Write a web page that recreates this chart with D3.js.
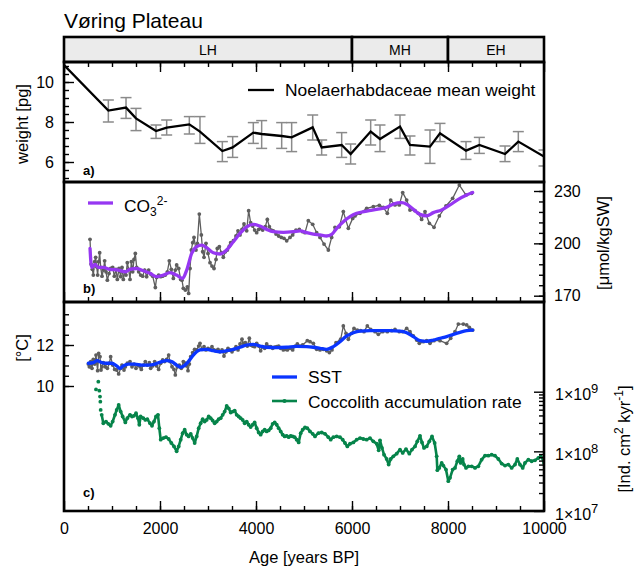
<!DOCTYPE html>
<html><head><meta charset="utf-8">
<script src="https://cdn.jsdelivr.net/npm/d3@7"></script>
<style>
body{margin:0;background:#fff}
svg{font-family:"Liberation Sans",Arial,Helvetica,sans-serif}
</style></head><body>
<svg id="chart" width="634" height="566"></svg>
<script>
// periods
const periods = [{name: 'LH', from: 0, to: 6000}, {name: 'MH', from: 6000, to: 8000}, {name: 'EH', from: 8000, to: 10000}]

// a) Noelaerhabdaceae mean weight [pg]
const wAge = [0, 924, 1292, 1500, 1917, 2139, 2611, 2833, 3299, 3514, 3944, 4118, 4535, 4743, 5181, 5368, 5785, 5972, 6389, 6583, 7000, 7208, 7625, 7833, 8375, 8653, 9188, 9465, 10000]
const wMean = [10.85, 8.57, 8.72, 8.18, 7.55, 7.72, 7.88, 7.52, 6.55, 6.73, 7.47, 7.4, 7.3, 7.23, 7.73, 6.73, 6.85, 6.4, 7.52, 7.15, 7.77, 6.85, 6.77, 7.43, 6.57, 6.85, 6.4, 7.02, 6.27]
const wHigh = [null, 9.1, 9.22, 8.68, 7.85, 8.1, 8.27, 8.27, 7.02, 7.27, 7.97, 8.07, 7.97, 7.97, 8.35, 7.1, 7.47, 6.9, 8.1, 7.85, 8.35, 7.3, 7.6, 7.93, 7.02, 7.23, 6.8, 7.52, 6.6]
const wLow = [null, 8.0, 8.18, 7.57, 7.18, 7.35, 7.4, 6.93, 6.02, 6.23, 6.93, 6.68, 6.68, 6.52, 7.1, 6.35, 6.23, 5.9, 6.85, 6.52, 7.18, 6.35, 5.93, 7.02, 6.13, 6.43, 6.02, 6.52, 5.8]

// b) carbonate ion [umol/kgSW], raw and smoothed
const co3Age = [542,563,590,611,639,660,681,701,722,743,764,792,820,847,875,903,938,972,1014,1049,1083,1111,1146,1181,1208,1236,1264,1292,1319,1347,1375,1403,1431,1458,1486,1514,1556,1597,1639,1681,1722,1764,1806,1847,1903,1931,1972,2014,2056,2111,2153,2194,2236,2278,2319,2347,2389,2431,2458,2486,2528,2569,2597,2625,2653,2681,2708,2750,2778,2819,2861,2889,2917,2958,3000,3042,3083,3125,3167,3194,3236,3278,3319,3361,3403,3444,3472,3528,3583,3625,3667,3708,3750,3806,3847,3889,3931,3972,4014,4056,4097,4139,4194,4236,4278,4319,4361,4417,4472,4528,4583,4639,4708,4764,4833,4903,4972,5021,5090,5181,5264,5333,5417,5507,5576,5646,5736,5819,5924,6014,6063,6167,6306,6444,6569,6653,6736,6806,6896,6986,7056,7139,7208,7313,7382,7451,7521,7611,7708,7819,7958,8097,8236,8375,8493]
const co3Val = [202.3,188.1,185.1,181.8,189.5,192.0,186.6,181.8,189.5,194.6,186.2,181.2,184.7,190.0,183.7,178.9,182.7,185.6,186.2,181.2,185.1,179.3,185.6,180.9,186.2,179.3,183.7,181.8,188.9,185.1,179.3,189.5,183.7,190.8,194.2,186.2,183.7,181.8,181.2,184.7,180.9,184.7,182.4,181.2,174.7,180.5,181.8,180.9,181.2,181.8,183.7,190.0,185.1,179.9,184.7,187.6,185.6,179.3,178.9,174.2,173.2,175.1,171.3,185.6,196.2,200.4,203.4,196.2,200.0,216.8,204.8,195.2,192.0,200.0,194.2,188.9,187.0,185.6,190.8,197.1,198.1,194.6,192.0,195.2,196.2,198.4,200.4,201.5,204.2,207.2,204.8,208.0,211.1,207.2,218.7,211.8,209.9,207.6,206.1,208.0,208.6,207.6,209.5,213.7,209.5,207.6,207.2,205.3,204.2,203.4,202.9,201.5,203.4,204.8,207.6,208.0,206.7,206.1,213.0,210.9,206.1,203.4,199.6,196.2,203.4,209.2,209.5,218.2,208.6,214.3,215.7,217.2,220.1,221.0,221.8,220.6,217.2,224.8,222.0,222.0,229.1,224.8,219.1,218.7,217.2,213.7,218.2,211.5,209.2,215.7,221.4,225.8,233.4,227.7,228.7]
const co3sAge = [542,576,611,646,715,819,958,1132,1271,1375,1514,1653,1792,1931,2069,2208,2347,2472,2556,2660,2764,2868,2972,3111,3250,3389,3528,3667,3806,3944,4083,4222,4361,4569,4778,4917,5056,5194,5333,5472,5576,5681,5819,5958,6097,6306,6514,6722,6861,7035,7139,7278,7417,7556,7694,7868,8042,8215,8389,8514]
const co3sVal = [197.1,186.2,187.0,187.9,186.2,186.2,185.1,184.7,183.7,185.1,185.6,184.3,182.8,180.9,181.8,183.2,181.8,179.9,184.7,194.2,198.1,199.0,197.5,194.6,193.9,196.2,200.9,205.7,209.5,210.9,209.9,208.0,206.7,206.3,206.7,207.2,206.1,205.3,204.8,204.2,205.1,208.6,212.4,215.3,217.2,218.5,219.5,220.6,222.5,223.3,222.4,219.5,216.6,215.8,217.6,219.1,222.0,225.2,227.7,229.1]

// c) SST [degC], raw and smoothed
const sstAge = [507,528,556,583,611,639,667,681,701,722,750,771,792,819,861,903,944,972,1014,1056,1097,1139,1181,1208,1250,1278,1319,1375,1417,1458,1500,1542,1583,1611,1653,1694,1736,1778,1806,1847,1889,1931,1972,2014,2056,2097,2139,2181,2208,2250,2292,2319,2361,2403,2444,2486,2521,2556,2583,2611,2639,2681,2722,2764,2806,2833,2875,2917,2958,3000,3042,3083,3125,3167,3208,3250,3292,3333,3375,3417,3458,3500,3542,3583,3625,3667,3708,3736,3778,3819,3861,3889,3931,3972,4014,4056,4097,4139,4181,4222,4264,4306,4347,4389,4431,4472,4514,4569,4611,4653,4708,4764,4819,4861,4917,4972,5069,5125,5194,5264,5333,5403,5472,5528,5583,5667,5764,5819,5875,5924,5993,6042,6111,6181,6250,6319,6389,6479,6549,6639,6736,6826,6896,6986,7056,7139,7208,7278,7347,7403,7486,7556,7625,7708,7833,7972,8056,8146,8215,8319,8389,8444,8514]
const sstVal = [11.07,10.94,11.19,10.86,11.30,11.07,11.51,11.14,10.75,11.59,11.43,10.78,10.94,11.14,10.94,10.86,11.11,11.43,11.02,10.81,10.78,10.59,10.86,11.02,10.78,10.94,11.11,11.19,10.94,11.07,10.86,11.02,10.94,10.81,11.02,11.19,11.02,11.14,10.86,10.98,11.19,10.98,10.81,11.11,11.27,11.19,11.30,11.51,11.19,10.94,10.81,10.54,10.94,11.02,10.86,11.19,11.11,10.98,10.75,11.07,11.43,11.63,11.79,11.76,11.95,12.08,11.79,11.92,11.76,11.84,11.79,11.92,11.76,11.72,11.79,11.67,11.76,11.46,11.67,11.84,11.76,11.67,11.79,11.92,11.76,12.05,12.28,12.08,12.11,11.95,12.33,12.0,11.95,11.92,12.08,11.95,11.72,11.92,11.84,12.05,11.92,11.92,11.84,11.89,11.92,11.95,11.84,11.76,11.79,11.76,11.84,11.76,11.95,12.05,11.95,12.0,12.21,12.16,12.08,11.79,11.76,11.79,11.72,11.63,11.76,12.11,12.28,12.93,12.57,12.28,12.57,12.81,12.73,12.70,12.65,12.93,12.76,12.65,12.52,12.65,12.65,12.70,12.76,12.65,12.65,12.81,12.65,12.44,12.24,12.08,12.16,12.21,12.08,12.21,12.21,12.08,12.33,12.65,13.02,13.02,12.98,12.86,12.73]
const sstsAge = [507,611,694,785,889,993,1097,1167,1236,1340,1479,1618,1757,1896,2035,2139,2243,2347,2431,2500,2590,2694,2833,2972,3111,3250,3389,3528,3667,3806,3944,4083,4222,4431,4639,4847,5056,5194,5333,5472,5611,5750,5889,6028,6167,6375,6583,6792,7000,7139,7278,7417,7556,7694,7833,7972,8111,8250,8389,8514]
const sstsVal = [11.11,11.14,11.24,11.14,11.11,11.11,10.98,10.86,10.98,11.07,11.07,11.02,11.02,11.07,11.19,11.24,11.19,11.02,10.91,10.98,11.19,11.51,11.76,11.79,11.72,11.67,11.72,11.79,11.89,12.0,12.03,11.95,11.89,11.87,11.89,11.93,11.92,11.89,11.84,11.79,11.92,12.16,12.44,12.60,12.68,12.70,12.70,12.70,12.68,12.60,12.41,12.21,12.18,12.24,12.33,12.41,12.52,12.62,12.70,12.73]

// c) coccolith accumulation rate [Ind. cm^2 kyr^-1]
const carDotAge = [667, 715, 736, 750, 757, 764]
const carDotVal = [1.09e9, 1.47e9, 1.04e9, 8.3e8, 6.8e8, 4.95e8]
const carAge = [785,819,875,924,972,1014,1063,1097,1139,1181,1222,1278,1319,1375,1417,1458,1500,1542,1569,1597,1653,1694,1736,1792,1833,1875,1917,1958,1986,2014,2069,2125,2181,2236,2292,2347,2389,2431,2472,2514,2556,2597,2639,2681,2722,2764,2806,2847,2889,2931,2972,3014,3056,3097,3139,3181,3222,3264,3306,3347,3389,3431,3472,3514,3556,3597,3639,3681,3722,3764,3806,3847,3889,3931,3972,4014,4056,4097,4139,4181,4222,4264,4306,4347,4389,4431,4472,4514,4556,4597,4639,4681,4722,4764,4806,4847,4889,4931,4972,5021,5069,5125,5181,5229,5299,5368,5438,5507,5556,5611,5681,5750,5806,5854,5903,5958,6028,6097,6167,6236,6306,6375,6444,6514,6556,6583,6625,6667,6722,6764,6806,6861,6931,7000,7056,7125,7194,7250,7313,7361,7417,7458,7500,7556,7611,7667,7722,7764,7778,7819,7868,7903,7958,8007,8042,8097,8146,8194,8236,8264,8306,8333,8375,8424,8493,8563,8632,8701,8771,8840,8910,8979,9049,9118,9188,9257,9326,9396,9444,9500,9556,9604,9674,9743,9813,9882,9931,9986,10000]
const carVal = [4.1e8,2.96e8,3.16e8,2.89e8,2.68e8,3.16e8,4.1e8,4.95e8,6.0e8,4.64e8,3.84e8,3.05e8,3.6e8,4.1e8,3.84e8,3.94e8,4.36e8,3.6e8,2.79e8,3.84e8,3.6e8,3.37e8,3.46e8,2.96e8,2.68e8,3.16e8,3.84e8,4.1e8,2.45e8,1.57e8,1.67e8,1.73e8,1.61e8,1.38e8,1.21e8,1.0e8,1.21e8,1.57e8,2.02e8,2.3e8,1.9e8,1.78e8,1.97e8,1.67e8,1.38e8,1.78e8,2.45e8,2.96e8,3.46e8,3.16e8,3.37e8,3.84e8,3.6e8,3.29e8,2.96e8,3.16e8,3.46e8,3.6e8,4.1e8,4.64e8,5.77e8,5.27e8,4.47e8,4.64e8,4.83e8,4.1e8,3.84e8,3.6e8,3.37e8,2.96e8,3.16e8,2.79e8,2.55e8,2.79e8,3.05e8,2.45e8,2.07e8,1.9e8,2.16e8,2.3e8,2.16e8,2.24e8,2.45e8,2.89e8,3.05e8,2.79e8,2.45e8,2.16e8,1.9e8,1.78e8,1.82e8,1.73e8,1.82e8,1.78e8,1.73e8,1.57e8,1.41e8,2.02e8,2.3e8,2.51e8,2.45e8,2.16e8,1.97e8,1.78e8,2.02e8,2.07e8,1.97e8,1.73e8,1.57e8,1.73e8,1.78e8,1.73e8,1.57e8,1.38e8,1.21e8,1.34e8,1.41e8,1.57e8,1.67e8,1.61e8,1.57e8,1.67e8,1.47e8,1.34e8,1.04e8,1.53e8,1.14e8,8.8e7,7.45e7,6.0e7,7.45e7,8.26e7,9.15e7,1.07e8,9.4e7,1.09e8,9.15e7,1.07e8,1.21e8,1.47e8,1.82e8,1.41e8,1.14e8,1.21e8,1.47e8,1.78e8,1.38e8,8.26e7,4.83e7,5.28e7,6.4e7,5.77e7,4.95e7,3.16e7,3.6e7,4.95e7,5.28e7,6.82e7,8.26e7,6.4e7,7.45e7,6.0e7,5.28e7,5.62e7,5.62e7,5.28e7,5.62e7,7.26e7,8.47e7,8.47e7,8.8e7,8.47e7,7.45e7,6.24e7,5.77e7,6.0e7,5.28e7,6.0e7,7.45e7,6.0e7,5.28e7,6.4e7,7.26e7,6.82e7,7.08e7,7.74e7,8.26e7,7.26e7,6.4e7]

// tick values
const xMinor = d3.range(500, 10000, 500)
const xMajor = [0, 2000, 4000, 6000, 8000, 10000]
const wMajor = [6, 8, 10]
const wMinor = d3.range(5.2, 11, 0.4)
const co3Major = [170, 200, 230]
const co3Minor = d3.range(170, 231, 6)
const sstMajor = [10, 12]
const sstMinor = d3.range(10, 13.6, 0.5)
const carMajor = [1e7, 1e8, 1e9]
const carMinor = [2, 3, 4, 5, 6, 7, 8, 9].flatMap(m => [m * 1e7, m * 1e8])

const L = 64, R = 544
const hdrTop = 37, aTop = 62, bTop = 182, cTop = 302, cBot = 511
const frameW = 2.6
const gray = '#5e5e5e', purple = '#9637f2', blue = '#0a35ff', green = '#06844a'

const svg = d3.select('#chart')
const x = d3.scaleLinear().domain([0, 10000]).range([L, R])
const yA = d3.scaleLinear().domain([6, 10]).range([162, 82])
const yB = d3.scaleLinear().domain([170, 230]).range([295.7, 191])
const yC = d3.scaleLinear().domain([10, 12]).range([386, 345])
const yLog = d3.scaleLog().domain([1e7, 1e9]).range([511, 391.7])

function clip(id, top, bottom) {
  svg.append('clipPath').attr('id', id)
    .append('rect').attr('x', L).attr('y', top).attr('width', R - L).attr('height', bottom - top)
}
clip('clipA', aTop, bTop)
clip('clipB', bTop, cTop)
clip('clipC', cTop, cBot)

function addAxis(gen, vals, size, tx, ty, fmt, pad) {
  const g = svg.append('g').attr('transform', `translate(${tx},${ty})`)
    .call(gen.tickValues(vals).tickSizeInner(size).tickSizeOuter(0).tickPadding(pad || 8).tickFormat(fmt || (() => '')))
  g.attr('font-size', 16).attr('font-family', null)
  g.select('.domain').remove()
  g.selectAll('line').attr('stroke', '#000').attr('stroke-width', 1.4)
  g.selectAll('text').attr('fill', '#000')
  return g
}

// ---- title + header
svg.append('text').attr('x', 64).attr('y', 28).attr('font-size', 21).text('Vøring Plateau')

svg.append('g').selectAll('rect').data(periods).enter().append('rect')
  .attr('x', d => x(d.from)).attr('y', hdrTop)
  .attr('width', d => x(d.to) - x(d.from)).attr('height', aTop - hdrTop)
  .attr('fill', '#ebebeb').attr('stroke', '#000').attr('stroke-width', frameW)
svg.append('g').selectAll('text').data(periods).enter().append('text')
  .attr('x', d => x((d.from + d.to) / 2)).attr('y', 54.5)
  .attr('text-anchor', 'middle').attr('font-size', 14).text(d => d.name)

// ---- panel a
const ga = svg.append('g').attr('clip-path', 'url(#clipA)')
const wData = wAge.map((a, i) => ({age: a, mean: wMean[i], hi: wHigh[i], lo: wLow[i]}))
const errs = wData.filter(d => d.hi != null)
const eb = ga.append('g').attr('stroke', '#8a8a8a').attr('stroke-width', 1.5)
eb.selectAll('.v').data(errs).enter().append('line')
  .attr('x1', d => x(d.age)).attr('x2', d => x(d.age)).attr('y1', d => yA(d.hi)).attr('y2', d => yA(d.lo))
eb.selectAll('.t').data(errs).enter().append('line')
  .attr('x1', d => x(d.age) - 5.5).attr('x2', d => x(d.age) + 5.5).attr('y1', d => yA(d.hi)).attr('y2', d => yA(d.hi))
eb.selectAll('.b').data(errs).enter().append('line')
  .attr('x1', d => x(d.age) - 5.5).attr('x2', d => x(d.age) + 5.5).attr('y1', d => yA(d.lo)).attr('y2', d => yA(d.lo))
ga.append('path').datum(wData)
  .attr('d', d3.line().x(d => x(d.age)).y(d => yA(d.mean)))
  .attr('fill', 'none').attr('stroke', '#000').attr('stroke-width', 2.3)

// legend a
svg.append('line').attr('x1', 248).attr('x2', 274).attr('y1', 90).attr('y2', 90).attr('stroke', '#000').attr('stroke-width', 2.3)
svg.append('text').attr('x', 285).attr('y', 95.5).attr('font-size', 17.4).text('Noelaerhabdaceae mean weight')
svg.append('text').attr('x', 83).attr('y', 175).attr('font-size', 13).attr('font-weight', 'bold').text('a)')

// ---- raw + smooth helper
function rawSeries(g, ages, vals, y) {
  const pts = d3.zip(ages, vals)
  g.append('path').datum(pts)
    .attr('d', d3.line().x(d => x(d[0])).y(d => y(d[1])))
    .attr('fill', 'none').attr('stroke', gray).attr('stroke-width', 1.3)
  g.append('g').selectAll('circle').data(pts).enter().append('circle')
    .attr('cx', d => x(d[0])).attr('cy', d => y(d[1])).attr('r', 1.9).attr('fill', gray)
}
function smoothSeries(g, ages, vals, y, color) {
  g.append('path').datum(d3.zip(ages, vals))
    .attr('d', d3.line().curve(d3.curveMonotoneX).x(d => x(d[0])).y(d => y(d[1])))
    .attr('fill', 'none').attr('stroke', color).attr('stroke-width', 3.3)
    .attr('stroke-linecap', 'round').attr('stroke-linejoin', 'round')
}

// ---- panel b
const gb = svg.append('g').attr('clip-path', 'url(#clipB)')
rawSeries(gb, co3Age, co3Val, yB)
smoothSeries(gb, co3sAge, co3sVal, yB, purple)
svg.append('line').attr('x1', 88).attr('x2', 113).attr('y1', 203).attr('y2', 203).attr('stroke', purple).attr('stroke-width', 3.3)
const co3Lab = svg.append('text').attr('x', 124).attr('y', 212).attr('font-size', 17.4)
co3Lab.append('tspan').text('CO')
co3Lab.append('tspan').attr('dy', 4).attr('font-size', 12).text('3')
co3Lab.append('tspan').attr('dy', -11).attr('font-size', 12).text('2-')
svg.append('text').attr('x', 83).attr('y', 293).attr('font-size', 13).attr('font-weight', 'bold').text('b)')

// ---- panel c
const gc = svg.append('g').attr('clip-path', 'url(#clipC)')
rawSeries(gc, sstAge, sstVal, yC)
smoothSeries(gc, sstsAge, sstsVal, yC, blue)
const car = d3.zip(carAge, carVal)
gc.append('path').datum(car)
  .attr('d', d3.line().x(d => x(d[0])).y(d => yLog(d[1])))
  .attr('fill', 'none').attr('stroke', green).attr('stroke-width', 2.6).attr('stroke-linejoin', 'round')
gc.append('g').selectAll('circle').data(car.concat(d3.zip(carDotAge, carDotVal))).enter().append('circle')
  .attr('cx', d => x(d[0])).attr('cy', d => yLog(d[1])).attr('r', 1.9).attr('fill', green)

svg.append('line').attr('x1', 272).attr('x2', 297).attr('y1', 377).attr('y2', 377).attr('stroke', blue).attr('stroke-width', 3.3)
svg.append('text').attr('x', 308).attr('y', 383).attr('font-size', 17.4).text('SST')
svg.append('line').attr('x1', 272).attr('x2', 297).attr('y1', 401).attr('y2', 401).attr('stroke', green).attr('stroke-width', 2.6)
svg.append('circle').attr('cx', 284.5).attr('cy', 401).attr('r', 2.1).attr('fill', green)
svg.append('text').attr('x', 308).attr('y', 408).attr('font-size', 17.4).text('Coccolith accumulation rate')
svg.append('text').attr('x', 83).attr('y', 497).attr('font-size', 13).attr('font-weight', 'bold').text('c)')

// ---- ticks
addAxis(d3.axisBottom(x), xMinor, 5, 0, aTop)
addAxis(d3.axisBottom(x), xMajor, 10, 0, aTop)
addAxis(d3.axisBottom(x), xMinor, -5, 0, cTop)
addAxis(d3.axisBottom(x), xMajor, -10, 0, cTop)
addAxis(d3.axisBottom(x), xMinor, -5, 0, cBot)
addAxis(d3.axisBottom(x), xMajor, -10, 0, cBot, d3.format('d'), 12)

addAxis(d3.axisLeft(yA), wMinor, -5, L, 0)
addAxis(d3.axisLeft(yA), wMajor, -10, L, 0, d3.format('d'), 10)
addAxis(d3.axisRight(yB), co3Minor, -5, R, 0)
addAxis(d3.axisRight(yB), co3Major, -10, R, 0, d3.format('d'), 10)
addAxis(d3.axisLeft(yC), sstMinor, -5, L, 0)
addAxis(d3.axisLeft(yC), sstMajor, -10, L, 0, d3.format('d'), 10)
addAxis(d3.axisRight(yLog), carMinor, -5, R, 0)
const logAx = addAxis(d3.axisRight(yLog), carMajor, -10, R, 0, d => d, 11)
logAx.selectAll('text').attr('dy', '0.5em').each(function (d) {
  const t = d3.select(this).text('')
  t.append('tspan').text('1×10')
  t.append('tspan').attr('dy', -7).attr('font-size', 13).text(Math.round(Math.log10(d)))
})

// ---- frames
;[[aTop, bTop], [bTop, cTop], [cTop, cBot]].forEach(([t, b]) => {
  svg.append('rect').attr('x', L).attr('y', t).attr('width', R - L).attr('height', b - t)
    .attr('fill', 'none').attr('stroke', '#000').attr('stroke-width', frameW)
})

// ---- axis titles
function vlabel(xp, yp, parts) {
  const t = svg.append('text').attr('transform', `translate(${xp},${yp}) rotate(-90)`)
    .attr('text-anchor', 'middle').attr('font-size', 16.5)
  parts.forEach(p => {
    const s = t.append('tspan').text(p.t)
    if (p.sup) s.attr('font-size', 12).attr('dy', -7)
    if (p.back) s.attr('dy', 7)
  })
}
vlabel(28, 124, [{t: 'weight [pg]'}])
vlabel(28, 348, [{t: '[°C]'}])
vlabel(609, 243, [{t: '[μmol/kgSW]'}])
vlabel(630, 439, [{t: '[Ind. cm'}, {t: '2', sup: true}, {t: ' kyr', back: true}, {t: '-1', sup: true}, {t: ']', back: true}])

svg.append('text').attr('x', 304).attr('y', 563).attr('text-anchor', 'middle').attr('font-size', 16.5).text('Age [years BP]')
</script>
</body></html>
